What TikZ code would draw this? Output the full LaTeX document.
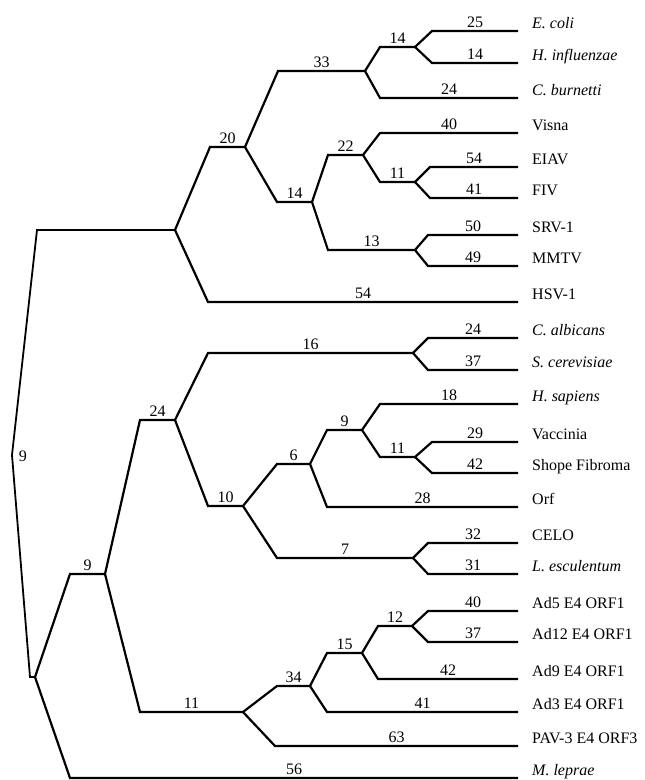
\documentclass[tikz,border=0pt]{standalone}
\usepackage{fontspec}
\setmainfont{Liberation Serif}
\begin{document}
\begin{tikzpicture}[x=1pt,y=-1pt,
		br/.style={draw=black,line width=2.2pt},
		len/.style={anchor=base,inner sep=0pt,yshift=3.5pt,font=\fontsize{16}{19}\selectfont},
		taxon/.style={anchor=base west,inner sep=0pt,xshift=14pt,yshift=3pt,font=\fontsize{16}{19}\selectfont}]
	\useasboundingbox (0,0) rectangle (645,780);
	% root and the left stem
	\coordinate (root) at (35,677);
	\coordinate (rootl) at (30,677);
	\coordinate (kink) at (12,455);
	\coordinate (top0) at (37,230); \coordinate (top) at (175,230);
	\begin{scope}
		\coordinate (na0) at (210,147); \coordinate (na) at (245,147);
		\coordinate (hsv0) at (208,302); \coordinate (hsv) at (518,302);
		\coordinate (nb0) at (278,71); \coordinate (nb) at (365,71);
		\coordinate (nc0) at (277,202); \coordinate (nc) at (312,202);
		\coordinate (nd0) at (380,47); \coordinate (nd) at (415,47);
		\coordinate (cbur0) at (380,98); \coordinate (cbur) at (518,98);
		\coordinate (ecoli0) at (432,31); \coordinate (ecoli) at (518,31);
		\coordinate (hinf0) at (432,63); \coordinate (hinf) at (518,63);
		\coordinate (ne0) at (328,155); \coordinate (ne) at (363,155);
		\coordinate (nf0) at (328,250); \coordinate (nf) at (415,250);
		\coordinate (visna0) at (380,133); \coordinate (visna) at (518,133);
		\coordinate (ng0) at (380,182); \coordinate (ng) at (415,182);
		\coordinate (eiav0) at (430,167); \coordinate (eiav) at (518,167);
		\coordinate (fiv0) at (430,198); \coordinate (fiv) at (518,198);
		\coordinate (srv0) at (428,235); \coordinate (srv) at (518,235);
		\coordinate (mmtv0) at (428,266); \coordinate (mmtv) at (518,266);
	\end{scope}
	\begin{scope}
		\coordinate (nh0) at (70,574); \coordinate (nh) at (105,574);
		\coordinate (mlep0) at (70,778); \coordinate (mlep) at (518,778);
		\coordinate (ni0) at (140,420); \coordinate (ni) at (175,420);
		\coordinate (nj0) at (140,712); \coordinate (nj) at (243,712);
		\coordinate (nk0) at (208,353); \coordinate (nk) at (413,353);
		\coordinate (nl0) at (208,506); \coordinate (nl) at (243,506);
		\coordinate (calb0) at (428,338); \coordinate (calb) at (518,338);
		\coordinate (scer0) at (428,370); \coordinate (scer) at (518,370);
		\coordinate (nm0) at (277,464); \coordinate (nm) at (310,464);
		\coordinate (nn0) at (277,558); \coordinate (nn) at (413,558);
		\coordinate (no0) at (327,430); \coordinate (no) at (362,430);
		\coordinate (orf0) at (327,507); \coordinate (orf) at (518,507);
		\coordinate (hsap0) at (380,404); \coordinate (hsap) at (518,404);
		\coordinate (np0) at (380,457); \coordinate (np) at (415,457);
		\coordinate (vacc0) at (432,442); \coordinate (vacc) at (518,442);
		\coordinate (shope0) at (432,473); \coordinate (shope) at (518,473);
		\coordinate (celo0) at (428,543); \coordinate (celo) at (518,543);
		\coordinate (lesc0) at (428,574); \coordinate (lesc) at (518,574);
		\coordinate (nq0) at (277,686); \coordinate (nq) at (310,686);
		\coordinate (pav0) at (275,746); \coordinate (pav) at (518,746);
		\coordinate (nr0) at (327,653); \coordinate (nr) at (362,653);
		\coordinate (adt0) at (327,712); \coordinate (adt) at (518,712);
		\coordinate (ns0) at (378,626); \coordinate (ns) at (412,626);
		\coordinate (adn0) at (378,679); \coordinate (adn) at (518,679);
		\coordinate (adf0) at (428,611); \coordinate (adf) at (518,611);
		\coordinate (adtw0) at (428,642); \coordinate (adtw) at (518,642);
	\end{scope}
	% branches
	\draw[br,line width=1.8pt] (root) -- (rootl) -- (kink) -- (top0) -- (top);
	\node[font=\fontsize{16}{19}\selectfont,inner sep=0pt] (lab9) at (23,456) {9};
	\draw[br] (top) -- (na0) -- node[len]{20} (na);
	\draw[br] (top) -- (hsv0) -- node[len]{54} (hsv);
	\draw[br] (na) -- (nb0) -- node[len]{33} (nb);
	\draw[br] (na) -- (nc0) -- node[len]{14} (nc);
	\draw[br] (nb) -- (nd0) -- node[len]{14} (nd);
	\draw[br] (nb) -- (cbur0) -- node[len]{24} (cbur);
	\draw[br] (nd) -- (ecoli0) -- node[len]{25} (ecoli);
	\draw[br] (nd) -- (hinf0) -- node[len]{14} (hinf);
	\draw[br] (nc) -- (ne0) -- node[len]{22} (ne);
	\draw[br] (nc) -- (nf0) -- node[len]{13} (nf);
	\draw[br] (ne) -- (visna0) -- node[len]{40} (visna);
	\draw[br] (ne) -- (ng0) -- node[len]{11} (ng);
	\draw[br] (ng) -- (eiav0) -- node[len]{54} (eiav);
	\draw[br] (ng) -- (fiv0) -- node[len]{41} (fiv);
	\draw[br] (nf) -- (srv0) -- node[len]{50} (srv);
	\draw[br] (nf) -- (mmtv0) -- node[len]{49} (mmtv);
	%
	\draw[br] (root) -- (nh0) -- node[len]{9} (nh);
	\draw[br] (root) -- (mlep0) -- node[len]{56} (mlep);
	\draw[br] (nh) -- (ni0) -- node[len]{24} (ni);
	\draw[br] (nh) -- (nj0) -- node[len]{11} (nj);
	\draw[br] (ni) -- (nk0) -- node[len]{16} (nk);
	\draw[br] (ni) -- (nl0) -- node[len]{10} (nl);
	\draw[br] (nk) -- (calb0) -- node[len]{24} (calb);
	\draw[br] (nk) -- (scer0) -- node[len]{37} (scer);
	\draw[br] (nl) -- (nm0) -- node[len]{6} (nm);
	\draw[br] (nl) -- (nn0) -- node[len]{7} (nn);
	\draw[br] (nm) -- (no0) -- node[len]{9} (no);
	\draw[br] (nm) -- (orf0) -- node[len]{28} (orf);
	\draw[br] (no) -- (hsap0) -- node[len]{18} (hsap);
	\draw[br] (no) -- (np0) -- node[len]{11} (np);
	\draw[br] (np) -- (vacc0) -- node[len]{29} (vacc);
	\draw[br] (np) -- (shope0) -- node[len]{42} (shope);
	\draw[br] (nn) -- (celo0) -- node[len]{32} (celo);
	\draw[br] (nn) -- (lesc0) -- node[len]{31} (lesc);
	\draw[br] (nj) -- (nq0) -- node[len]{34} (nq);
	\draw[br] (nj) -- (pav0) -- node[len]{63} (pav);
	\draw[br] (nq) -- (nr0) -- node[len]{15} (nr);
	\draw[br] (nq) -- (adt0) -- node[len]{41} (adt);
	\draw[br] (nr) -- (ns0) -- node[len]{12} (ns);
	\draw[br] (nr) -- (adn0) -- node[len]{42} (adn);
	\draw[br] (ns) -- (adf0) -- node[len]{40} (adf);
	\draw[br] (ns) -- (adtw0) -- node[len]{37} (adtw);
	% taxa
	\node[taxon] (ecolit) at (ecoli) {\textit{E. coli}};
	\node[taxon] (hinft) at (hinf) {\textit{H. influenzae}};
	\node[taxon] (cburt) at (cbur) {\textit{C. burnetti}};
	\node[taxon] (visnat) at (visna) {Visna};
	\node[taxon] (eiavt) at (eiav) {EIAV};
	\node[taxon] (fivt) at (fiv) {FIV};
	\node[taxon] (srvt) at (srv) {SRV-1};
	\node[taxon] (mmtvt) at (mmtv) {MMTV};
	\node[taxon] (hsvt) at (hsv) {HSV-1};
	\node[taxon] (calbt) at (calb) {\textit{C. albicans}};
	\node[taxon] (scert) at (scer) {\textit{S. cerevisiae}};
	\node[taxon] (hsapt) at (hsap) {\textit{H. sapiens}};
	\node[taxon] (vacct) at (vacc) {Vaccinia};
	\node[taxon] (shopet) at (shope) {Shope Fibroma};
	\node[taxon] (orft) at (orf) {Orf};
	\node[taxon] (celot) at (celo) {CELO};
	\node[taxon] (lesct) at (lesc) {\textit{L. esculentum}};
	\node[taxon] (adft) at (adf) {Ad5 E4 ORF1};
	\node[taxon] (adtwt) at (adtw) {Ad12 E4 ORF1};
	\node[taxon] (adnt) at (adn) {Ad9 E4 ORF1};
	\node[taxon] (adtt) at (adt) {Ad3 E4 ORF1};
	\node[taxon] (pavt) at (pav) {PAV-3 E4 ORF3};
	\node[taxon] (mlept) at (mlep) {\textit{M. leprae}};
\end{tikzpicture}
\end{document}
